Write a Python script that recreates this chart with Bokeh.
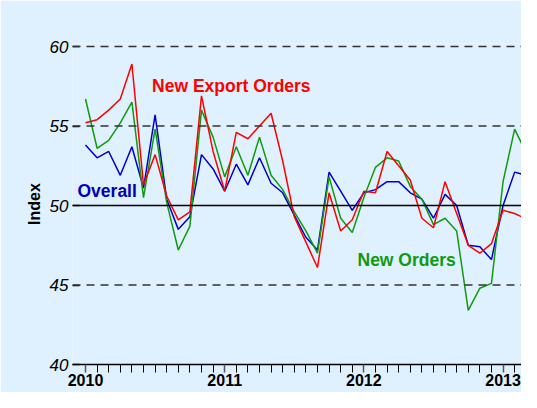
from bokeh.plotting import figure
from bokeh.models import FixedTicker, Span, Label, Range1d, ColumnDataSource
from bokeh.embed import file_html
from bokeh.resources import INLINE

# ---- data -------------------------------------------------------------
months = [f"{y}-{m:02d}" for y in (2010, 2011, 2012, 2013) for m in range(1, 13)][:39]

new_export_orders = [55.2, 55.4, 56.0, 56.7, 58.9, 51.3, 53.2, 50.6, 49.1, 49.6,
                     56.9, 53.4, 50.9, 54.6, 54.2, 55.0, 55.8, 52.8, 49.3, 47.7,
                     46.1, 50.8, 48.4, 49.1, 50.9, 50.8, 53.4, 52.5, 51.6, 49.2,
                     48.6, 51.5, 49.5, 47.5, 47.0, 47.6, 49.7, 49.5, 49.15]
new_orders = [56.7, 53.6, 54.1, 55.2, 56.5, 50.5, 54.8, 50.2, 47.2, 48.7,
              56.0, 54.3, 51.8, 53.7, 51.9, 54.3, 51.9, 51.0, 49.6, 48.4,
              47.0, 51.8, 49.2, 48.3, 50.5, 52.4, 53.0, 52.8, 51.2, 50.4,
              48.8, 49.2, 48.4, 43.4, 44.8, 45.1, 51.5, 54.8, 53.3]
overall = [53.8, 53.0, 53.4, 51.9, 53.7, 51.1, 55.7, 50.4, 48.5, 49.3,
           53.2, 52.3, 50.9, 52.6, 51.3, 53.0, 51.4, 50.8, 49.4, 48.0,
           47.2, 52.1, 50.9, 49.7, 50.8, 51.0, 51.5, 51.5, 50.8, 50.4,
           49.2, 50.7, 50.0, 47.5, 47.4, 46.6, 50.0, 52.1, 51.9]

year_labels = ["2010", "2011", "2012", "2013"]
y_ticks = [40, 45, 50, 55, 60]

# ---- styling ------------------------------------------------------------
BG = "#dff0fe"
FONT = "Liberation Sans"
RED = "#ff0000"
GREEN = "#0f9a0f"
BLUE = "#0000cc"

x = list(range(len(months)))
src = ColumnDataSource(dict(x=x, exp=new_export_orders, no=new_orders, ov=overall))

p = figure(width=521, height=392, output_backend="svg", toolbar_location=None,
           x_range=Range1d(-1.121, 37.59), y_range=Range1d(40, 60.19),
           min_border_left=72, min_border_right=0, min_border_top=43,
           min_border_bottom=28,
           background_fill_color=BG, border_fill_color=BG,
           outline_line_color=None)

p.xgrid.visible = False
p.ygrid.visible = False

# y axis
p.yaxis.ticker = FixedTicker(ticks=y_ticks)
p.yaxis.axis_line_color = None
p.yaxis.major_tick_in = 7
p.yaxis.major_tick_out = 0
p.yaxis.major_tick_line_color = "black"
p.yaxis.major_tick_line_width = 1.5
p.yaxis.minor_tick_line_color = None
p.yaxis.major_label_text_font = FONT
p.yaxis.major_label_text_font_style = "italic"
p.yaxis.major_label_text_font_size = "17px"
p.yaxis.major_label_text_color = "black"
p.yaxis.major_label_standoff = 4
p.yaxis.axis_label = "Index"
p.yaxis.axis_label_text_font = FONT
p.yaxis.axis_label_text_font_style = "bold"
p.yaxis.axis_label_text_font_size = "16px"
p.yaxis.axis_label_text_color = "black"
p.yaxis.axis_label_standoff = 4

# x axis
year_pos = [12 * k for k in range(len(year_labels))]
p.xaxis.ticker = FixedTicker(ticks=year_pos,
                             minor_ticks=[i for i in x if i not in year_pos])
p.xaxis.major_label_overrides = {pos: lab for pos, lab in zip(year_pos, year_labels)}
p.xaxis.axis_line_color = "black"
p.xaxis.axis_line_width = 1.5
p.xaxis.major_tick_in = 0
p.xaxis.major_tick_out = 8
p.xaxis.minor_tick_in = 0
p.xaxis.minor_tick_out = 8
p.xaxis.major_tick_line_color = "#555555"
p.xaxis.major_tick_line_width = 1.5
p.xaxis.minor_tick_line_color = "black"
p.xaxis.minor_tick_line_width = 1
p.xaxis.major_label_text_font = FONT
p.xaxis.major_label_text_font_style = "bold"
p.xaxis.major_label_text_font_size = "16px"
p.xaxis.major_label_text_color = "black"
p.xaxis.major_label_standoff = 1

# reference lines
for v in (45, 55, 60):
    p.add_layout(Span(location=v, dimension="width", line_color="#333333",
                      line_width=1.5, line_dash="8 6"))
p.add_layout(Span(location=50, dimension="width", line_color="black", line_width=1.5))

# series
p.line("x", "ov", source=src, line_color=BLUE, line_width=1.5)
p.line("x", "no", source=src, line_color=GREEN, line_width=1.5)
p.line("x", "exp", source=src, line_color=RED, line_width=1.5)

# series labels
for tx, ty, txt, col in [(5.74, 57.53, "New Export Orders", RED),
                         (-0.69, 50.92, "Overall", "#0000bb"),
                         (23.45, 46.58, "New Orders", GREEN)]:
    p.add_layout(Label(x=tx, y=ty, text=txt, text_color=col,
                       text_font=FONT, text_font_style="bold",
                       text_font_size="17.5px", text_baseline="middle"))

p.add_layout(Label(x=37.45, y=38.3, text="Mar", text_color="black",
                   text_font=FONT, text_font_style="bold", text_align="right",
                   text_font_size="7px", text_baseline="bottom"))

open("out.html", "w").write(file_html(p, INLINE))
